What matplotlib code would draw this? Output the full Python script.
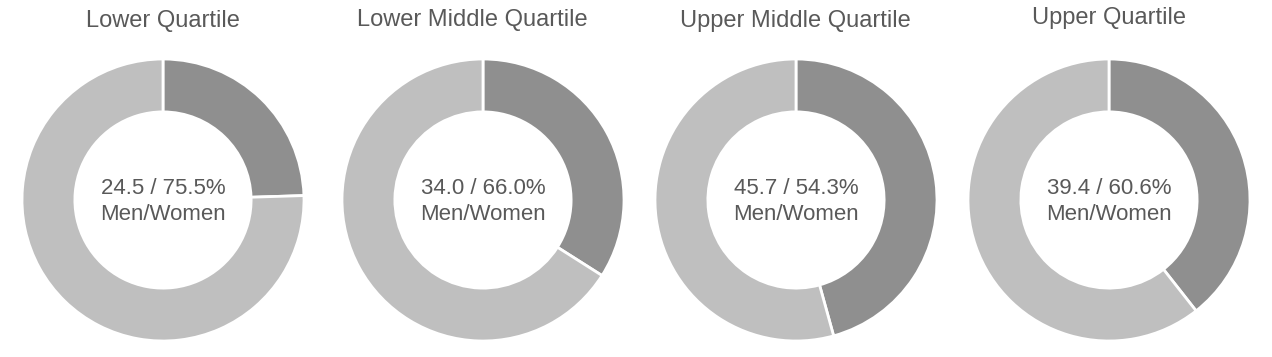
import matplotlib
matplotlib.use("Agg")
from matplotlib import pyplot as plt

plt.rcParams['font.family'] = ['Liberation Sans', 'DejaVu Sans']

# data
titles = ['Lower Quartile', 'Lower Middle Quartile', 'Upper Middle Quartile', 'Upper Quartile']
men = [24.5, 34.0, 45.7, 39.4]
women = [75.5, 66.0, 54.3, 60.6]

colors = ['#8f8f8f', '#bfbfbf']
text_color = '#595959'

W, H = 1272, 357
centers_x = [163, 483, 796, 1109]
title_x = [163, 472, 795, 1109]
title_y = [21, 20, 21, 18]
cy = 200
r = 141

fig = plt.figure(figsize=(W / 100, H / 100), dpi=100)

for i in range(4):
    ax = fig.add_axes([(centers_x[i] - r) / W, (H - cy - r) / H, 2 * r / W, 2 * r / H])
    ax.pie([men[i], women[i]], colors=colors, startangle=90, counterclock=False,
           radius=1, wedgeprops=dict(width=0.375, edgecolor='white', linewidth=2))
    ax.set_xlim(-1, 1)
    ax.set_ylim(-1, 1)
    ax.axis('off')
    ax.text(0, 0.085, f'{men[i]:.1f} / {women[i]:.1f}%', ha='center', va='center',
            fontsize=16, color=text_color)
    ax.text(0, -0.105, 'Men/Women', ha='center', va='center', fontsize=16, color=text_color)
    fig.text(title_x[i] / W, 1 - title_y[i] / H, titles[i], ha='center', va='center',
             fontsize=17, color=text_color)

fig.savefig('out.png', dpi=100, facecolor='white')
